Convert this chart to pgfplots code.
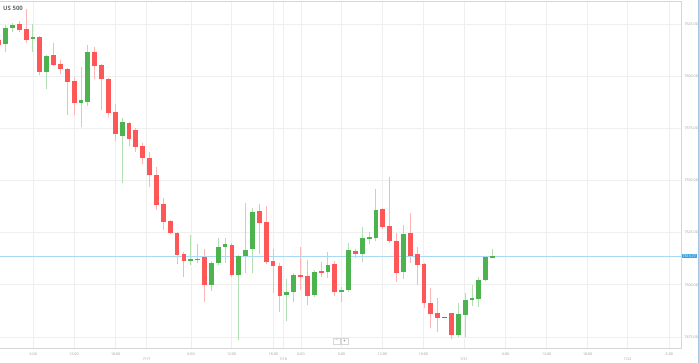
\documentclass[border=0pt]{standalone}
\usepackage{pgfplots}
\usepackage{pgfplotstable}
\pgfplotsset{compat=1.18}
\usepackage{fontspec}
\setmainfont{Open Sans}
\definecolor{redbody}{HTML}{FF5757}
\definecolor{greenbody}{HTML}{4DB34F}
\definecolor{redwick}{HTML}{FFB5B5}
\definecolor{greenwick}{HTML}{B3DFB4}
\definecolor{dojigray}{HTML}{777777}
\definecolor{gridgray}{HTML}{EFEFEF}
\definecolor{bordergray}{HTML}{D6D6D6}
\definecolor{labelgray}{HTML}{9A9A9A}
\definecolor{titlegray}{HTML}{666666}
\definecolor{priceline}{HTML}{A9DAF5}
\definecolor{pricebox}{HTML}{3DA5E8}

\pgfplotstableread{
x o h l c
-1.4 7617.3 7618.3 7614.0 7614.9
19.2 7625.0 7626.4 7621.2 7622.1
26.1 7622.6 7632.2 7615.9 7617.3
39.8 7618.8 7619.2 7600.6 7602.0
53.5 7610.1 7615.9 7604.9 7605.4
60.4 7605.8 7607.7 7601.0 7603.4
67.2 7603.4 7603.9 7581.4 7597.2
74.1 7597.7 7599.6 7581.4 7587.1
94.7 7611.6 7614.0 7598.6 7604.9
101.5 7605.4 7605.8 7583.8 7598.6
108.4 7598.6 7599.1 7580.4 7582.3
115.3 7582.8 7586.7 7568.9 7572.3
129.0 7577.6 7578.0 7566.5 7569.9
135.8 7574.2 7575.2 7563.7 7566.1
142.7 7566.5 7568.0 7557.9 7560.8
149.6 7560.8 7563.7 7546.9 7552.6
156.4 7552.6 7556.5 7535.9 7538.3
163.3 7538.7 7541.6 7526.3 7530.1
170.1 7530.6 7531.1 7524.4 7524.8
177.0 7524.8 7525.3 7510.0 7514.3
183.9 7514.8 7515.7 7503.8 7511.4
197.6 7512.4 7519.6 7510.5 7511.7
204.4 7513.3 7517.2 7491.8 7499.9
231.9 7519.1 7520.1 7503.8 7504.7
259.3 7535.4 7538.7 7514.8 7529.6
266.2 7530.1 7537.8 7510.0 7510.9
273.0 7511.4 7517.2 7496.1 7509.0
279.9 7509.0 7510.5 7487.0 7494.7
300.5 7504.7 7518.1 7497.5 7503.8
307.3 7504.2 7511.9 7490.3 7494.7
321.1 7506.6 7510.9 7503.8 7505.7
334.8 7510.0 7511.4 7494.7 7496.6
355.4 7516.2 7517.2 7512.9 7514.8
382.8 7536.3 7536.8 7526.8 7527.7
389.7 7528.2 7551.7 7520.1 7521.0
396.5 7521.0 7524.8 7501.4 7505.7
410.2 7524.8 7534.4 7510.5 7513.8
417.1 7514.8 7518.1 7499.9 7509.5
424.0 7510.0 7510.5 7488.9 7491.3
430.8 7491.3 7498.5 7479.3 7486.0
437.7 7486.5 7493.7 7477.4 7484.1
451.4 7486.5 7486.5 7474.0 7476.0
}\redtab

\pgfplotstableread{
x o h l c
5.5 7615.4 7624.5 7611.6 7623.1
12.4 7623.1 7625.5 7621.2 7624.5
32.9 7617.8 7625.0 7611.6 7618.8
46.7 7602.0 7610.1 7593.9 7609.7
81.0 7587.1 7604.4 7575.6 7588.6
87.8 7587.6 7614.9 7585.7 7611.6
122.1 7571.3 7580.0 7548.8 7578.0
190.7 7511.4 7523.9 7509.5 7512.4
211.3 7499.9 7511.4 7497.1 7510.5
218.2 7510.5 7522.5 7509.5 7518.1
225.0 7518.1 7522.5 7510.5 7519.6
238.7 7504.7 7514.3 7473.6 7513.8
245.6 7513.8 7539.2 7505.7 7516.7
252.5 7517.2 7536.8 7505.7 7534.9
286.8 7495.1 7502.8 7482.7 7496.6
293.6 7496.6 7505.7 7491.8 7504.7
314.2 7495.1 7507.1 7494.2 7506.2
327.9 7506.2 7515.7 7503.3 7509.5
341.6 7496.6 7499.0 7491.8 7497.5
348.5 7497.5 7520.1 7496.6 7516.7
362.2 7514.8 7527.7 7510.9 7522.5
369.1 7522.0 7525.3 7519.6 7523.0
375.9 7522.5 7545.9 7521.0 7535.9
403.4 7506.2 7528.7 7502.8 7524.4
458.3 7476.0 7491.3 7475.0 7486.0
465.1 7485.5 7496.1 7475.0 7492.7
472.0 7492.8 7499.9 7489.9 7493.7
478.8 7493.2 7503.8 7489.4 7502.3
485.7 7502.3 7513.3 7501.9 7513.3
492.6 7512.9 7517.2 7512.9 7513.8
}\greentab

\pgfplotstableread{
x o h l c
444.5 7484.6 7484.6 7484.1 7484.1
}\dojitab

\pgfplotsset{
  candlepart/.style={only marks, mark=*, mark size=0pt, mark options={draw=none, fill=none}, forget plot},
}

\begin{document}
\begin{tikzpicture}[x=1pt,y=1pt]
\useasboundingbox (0pt,0pt) rectangle (699pt,363pt);
\begin{axis}[
  at={(0pt,15pt)}, anchor=south west,
  width=681pt, height=347pt, scale only axis,
  xmin=0, xmax=681, ymin=7469.7, ymax=7636.0,
  clip mode=individual,
  axis line style={draw=none},
  major tick length=0pt,
  grid=major,
  major grid style={color=gridgray, line width=0.6pt},
  /pgf/number format/assume math mode=true,
  xtick={33.3,74,115.7,191,231.7,273.3,301,341.7,382.3,423.3,505.7,546.7,587.7,669.3},
  xticklabels={6:00,12:00,18:00,6:00,12:00,18:00,0:00,6:00,12:00,18:00,6:00,12:00,18:00,6:00},
  extra x ticks={146.7,283.3,464,627.7},
  extra x tick labels={7/17,7/18,7/21,7/22},
  extra x tick style={grid=major, tick label style={yshift=-5pt}},
  xticklabel style={anchor=center, yshift=-6pt, font=\fontsize{3.6}{4}\selectfont, text=labelgray},
  ytick={7475,7500,7525,7550,7575,7600,7625},
  yticklabel pos=right,
  yticklabel style={anchor=west, xshift=0pt, font=\fontsize{3.6}{4}\selectfont, text=labelgray,
    /pgf/number format/.cd, fixed, fixed zerofill, precision=2, 1000 sep={}},
]
% wicks
\addplot[candlepart,
  error bars/.cd, y dir=plus, y explicit, error mark=none,
  error bar style={line width=1pt, color=redwick}]
  table[x=x, y=l, y error plus expr={\thisrow{h}-\thisrow{l}}] {\redtab};
\addplot[candlepart,
  error bars/.cd, y dir=plus, y explicit, error mark=none,
  error bar style={line width=1pt, color=greenwick}]
  table[x=x, y=l, y error plus expr={\thisrow{h}-\thisrow{l}}] {\greentab};
% price line
\addplot[priceline, line width=1pt, forget plot] coordinates {(0,7513.77) (681,7513.77)};
% bodies
\addplot[candlepart,
  error bars/.cd, y dir=plus, y explicit, error mark=none,
  error bar style={line width=4.8pt, color=redbody}]
  table[x=x, y expr={min(\thisrow{o},\thisrow{c})}, y error plus expr={abs(\thisrow{o}-\thisrow{c})}] {\redtab};
\addplot[candlepart,
  error bars/.cd, y dir=plus, y explicit, error mark=none,
  error bar style={line width=4.8pt, color=greenbody}]
  table[x=x, y expr={min(\thisrow{o},\thisrow{c})}, y error plus expr={abs(\thisrow{o}-\thisrow{c})}] {\greentab};
\addplot[candlepart,
  error bars/.cd, y dir=plus, y explicit, error mark=none,
  error bar style={line width=4.8pt, color=dojigray}]
  table[x=x, y expr={min(\thisrow{o},\thisrow{c})}, y error plus expr={abs(\thisrow{o}-\thisrow{c})}] {\dojitab};
\coordinate (cp) at (axis cs:681,7513.77);
\coordinate (tl) at (rel axis cs:0,1);
\coordinate (tr) at (rel axis cs:1,1);
\coordinate (br) at (rel axis cs:1,0);
\coordinate (bl) at (rel axis cs:0,0);
\end{axis}
\draw[bordergray, line width=0.8pt] (tl) -- (tr) -- (br) -- (bl);
\draw[priceline!80!gray, line width=1pt] (698.5pt,0pt) -- (698.5pt,363pt);
\node[fill=pricebox, text=white, anchor=west, inner xsep=0.7pt, inner ysep=1.1pt,
  font=\fontsize{3.6}{4}\selectfont] at ([xshift=0.8pt]cp) {7513.77};
\node[anchor=west, font=\fontsize{6}{7}\selectfont\bfseries, text=titlegray, inner sep=0pt] at (3pt,355pt) {US 500};
\node[draw=bordergray, fill=white, minimum width=7pt, minimum height=5.5pt, inner sep=0pt,
  font=\fontsize{4}{4}\selectfont, text=titlegray] at (336.5pt,22pt) {--};
\node[draw=bordergray, fill=white, minimum width=7pt, minimum height=5.5pt, inner sep=0pt,
  font=\fontsize{4}{4}\selectfont\bfseries, text=titlegray] at (344.5pt,22pt) {+};
\end{tikzpicture}
\end{document}
